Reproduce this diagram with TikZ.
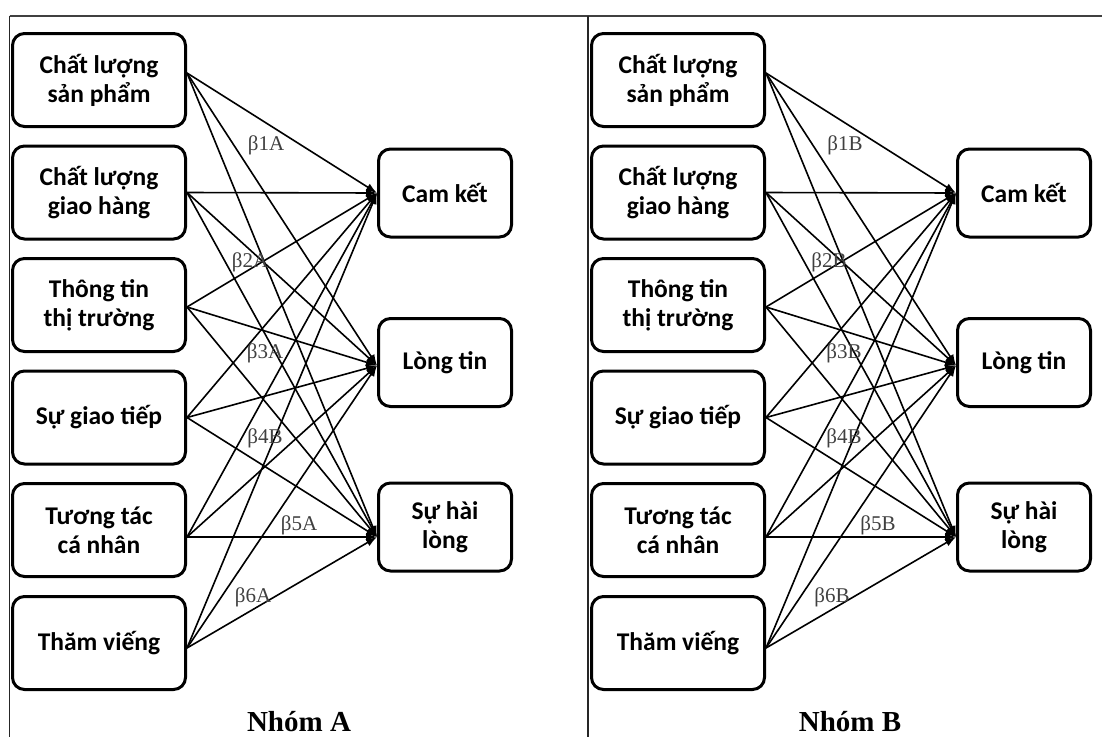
\documentclass[tikz,border=0pt]{standalone}
\usepackage{fontspec}
\setmainfont{Liberation Serif}
\newfontfamily\boxfont{Carlito}
\usetikzlibrary{arrows.meta}
\begin{document}
\begin{tikzpicture}[x=1pt,y=-1pt,
  box/.style={draw, line width=3pt, rounded corners=12pt, align=center,
    font=\boxfont\bfseries\fontsize{25.5}{29}\selectfont, inner sep=0pt},
  lbox/.style={box, minimum width=173pt, minimum height=93pt},
  rbox/.style={box, minimum width=133pt, minimum height=88pt},
  link/.style={line width=1.6pt, -{Latex[length=11pt,width=8pt]}},
  beta/.style={font=\fontsize{21}{23}\selectfont, text=black!75, inner sep=0pt},
  frame/.style={line width=1.3pt, black!85},
  title/.style={font=\bfseries\fontsize{29}{31}\selectfont, inner sep=0pt, anchor=base}
]
\useasboundingbox (0,0) rectangle (1102,737);
\draw[frame, line width=2pt, black!75] (9.5,15.5) coordinate (tl) -- (1102,15.5) coordinate (tr);
\draw[frame] (9.5,15.5) coordinate (lt) -- (9.5,737) coordinate (lb);
\draw[frame] (588,15.5) coordinate (mt) -- (588,737) coordinate (mb);

\foreach \p/\s/\f in {A/0/A,B/579/B}{
\begin{scope}[xshift=\s pt, name prefix=\p-]
  \node[lbox] (1) at (99,80) {Chất lượng\\sản phẩm};
  \node[lbox] (2) at (99,192.5) {Chất lượng\\giao hàng};
  \node[lbox] (3) at (99,305) {Thông tin\\thị trường};
  \node[lbox] (4) at (99,417.5) {Sự giao tiếp};
  \node[lbox] (5) at (99,530) {Tương tác\\cá nhân};
  \node[lbox] (6) at (99,643) {Thăm viếng};
  \node[rbox] (C) at (445,193) {Cam kết};
  \node[rbox] (L) at (445,362.5) {Lòng tin};
  \node[rbox] (S) at (445,527) {Sự hài\\lòng};
  \foreach \i/\dy in {1/7,2/0,3/-2,4/0,5/-7,6/-5}{
    \foreach \j/\ty in {C/0,L/-3,S/-10}{
      \draw[link] ([yshift=\dy pt]\i.east) -- ([yshift=\ty pt]\j.west);
    }
  }
  \node[beta] (b1) at (266,145) {β1\f};
  \node[beta] (b2) at (250,262) {β2\f};
  \node[beta] (b3) at (265,353) {β3\f};
  \node[beta] (b4) at (265,438) {β4B};
  \node[beta] (b5) at (299,525) {β5\f};
  \node[beta] (b6) at (253,597) {β6\f};
\end{scope}
}
\node[title] (tA) at (299,731) {Nhóm A};
\node[title] (tB) at (850,731) {Nhóm B};
\end{tikzpicture}
\end{document}
